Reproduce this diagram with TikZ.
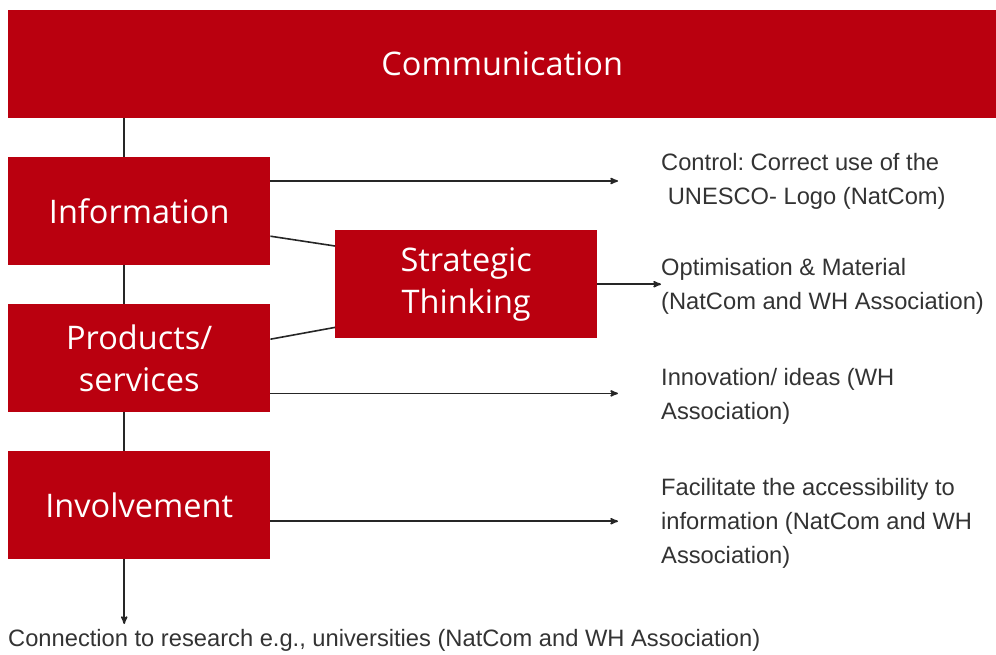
\documentclass[tikz,border=0pt]{standalone}
\usepackage{fontspec}
\setmainfont{Liberation Sans}
\newfontfamily\boxfont{Open Sans}
\usetikzlibrary{arrows}
\definecolor{natred}{RGB}{186,0,15}
\definecolor{notegray}{RGB}{51,51,51}
\frenchspacing

\begin{document}
\begin{tikzpicture} [x=1pt, y=-1pt,
  box/.style={fill=natred, text=white, anchor=north west, inner sep=0,
    minimum width=262pt, minimum height=108pt, align=center,
    font=\boxfont\fontsize{32.5}{42}\selectfont},
  note/.style={anchor=north west, inner sep=0, align=left, text=notegray,
    font=\fontsize{23.7}{34}\selectfont},
  link/.style={black!85, line width=1.6pt},
  every path/.style={>=stealth'}]
\useasboundingbox (0,0) rectangle (996,655);
\node[box, minimum width=988pt] (comm) at (8,10) {Communication};
\node[box] (info) at (8,157) {Information};
\node[box] (prod) at (8,304) {Products/\\services};
\node[box] (inv) at (8,451) {Involvement};
\node[box] (strat) at (335,230) {Strategic\\Thinking};
% texts on the right and below
\node[note] (ctrl) at (661,153) {Control: Correct use of the\\\ UNESCO- Logo (NatCom)};
\node[note] (opt) at (661,258) {Optimisation \& Material\\(NatCom and WH Association)};
\node[note] (inno) at (661,368) {Innovation/ ideas (WH\\Association)};
\node[note] (facil) at (661,478) {Facilitate the accessibility to\\information (NatCom and WH\\Association)};
\node[note] (conn) at (8,629) {Connection to research e.g., universities (NatCom and WH Association)};
\coordinate (tips) at (618,0);
% trunk
\draw[link] ([xshift=-15pt]info.north) -- ([xshift=-15pt]info.north |- comm.south);
\draw[link] ([xshift=-15pt]info.south) -- ([xshift=-15pt]prod.north);
\draw[link] ([xshift=-15pt]prod.south) -- ([xshift=-15pt]inv.north);
\draw[link, ->] ([xshift=-15pt]inv.south) -- ([xshift=-15pt,yshift=5pt]inv.south |- conn.north);
% strategic thinking
\draw[link] ([yshift=-25pt]info.east) -- ([yshift=-16pt]strat.north west);
\draw[link] ([yshift=19pt]prod.east) -- ([yshift=11pt]strat.south west);
\draw[link, ->] (strat.east) -- (strat.east -| opt.west);
% arrows to the right
\draw[link, ->] ([yshift=-24pt]info.north east) -- ([yshift=-24pt]info.north east -| tips);
\draw[link, ->] ([yshift=19pt]prod.south east) -- ([yshift=19pt]prod.south east -| tips);
\draw[link, ->] ([yshift=-16pt]inv.east) -- ([yshift=-16pt]inv.east -| tips);
\end{tikzpicture}
\end{document}
